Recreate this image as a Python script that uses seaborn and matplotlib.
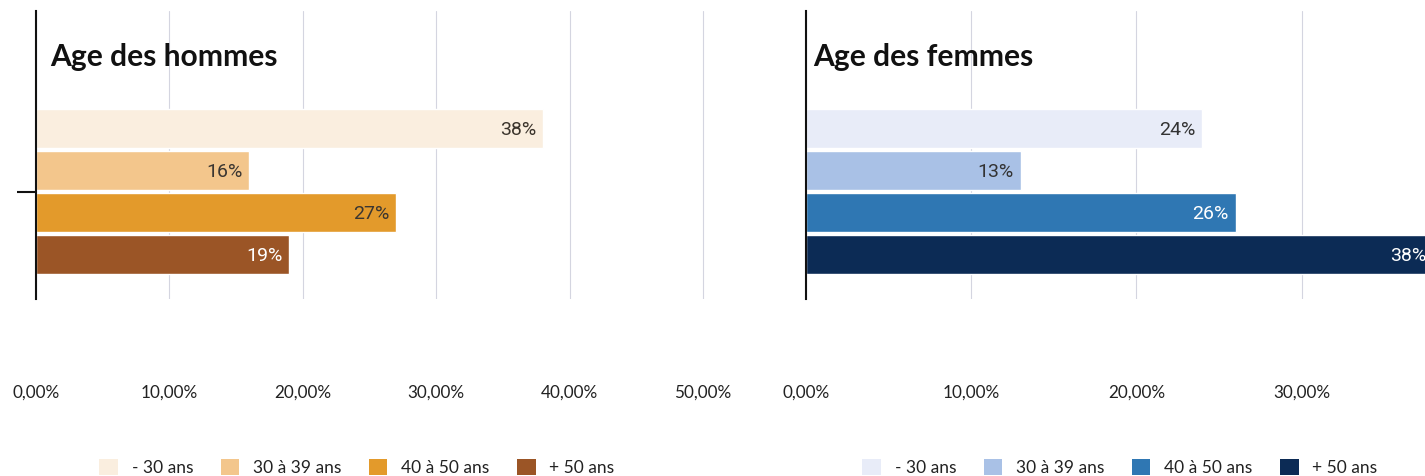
import matplotlib
matplotlib.use("Agg")
import matplotlib.pyplot as plt
from matplotlib.ticker import FuncFormatter, FixedLocator
from matplotlib.patches import Patch
import seaborn as sns
import pandas as pd

# Tranches d'âge et répartitions (en fraction)
ages = ["- 30 ans", "30 à 39 ans", "40 à 50 ans", "+ 50 ans"]
hommes = [0.38, 0.16, 0.27, 0.19]
femmes = [0.24, 0.13, 0.26, 0.38]

couleurs_hommes = ["#faeedf", "#f3c68c", "#e39a2b", "#9b5526"]
couleurs_femmes = ["#e8ecf8", "#a9c1e6", "#2f77b3", "#0c2b55"]
texte_hommes = ["#3b342c", "#3b3631", "#3b3631", "#ffffff"]
texte_femmes = ["#333333", "#333333", "#ffffff", "#ffffff"]

titres = ["Age des hommes", "Age des femmes"]
ticks_hommes = [0.0, 0.1, 0.2, 0.3, 0.4, 0.5]
ticks_femmes = [0.0, 0.1, 0.2, 0.3]

W, H = 1425, 477
sns.set_theme(style="white")
plt.rcParams["font.family"] = ["Lato", "DejaVu Sans"]

fig = plt.figure(figsize=(W / 100, H / 100), dpi=100)


def px_axes(x0, x1, y_top, y_bot):
    return fig.add_axes([x0 / W, 1 - y_bot / H, (x1 - x0) / W, (y_bot - y_top) / H])


def fmt_pct(v, _pos):
    return f"{v * 100:.2f}%".replace(".", ",")


panneaux = [
    dict(ax=px_axes(36, 706, 12, 300), vals=hommes, cols=couleurs_hommes,
         txt=texte_hommes, xmax=0.5023, ticks=ticks_hommes, title=titres[0],
         tx=50, tick_len=13.5, leg_x=357),
    dict(ax=px_axes(806, 1425, 12, 300), vals=femmes, cols=couleurs_femmes,
         txt=texte_femmes, xmax=0.3747, ticks=ticks_femmes, title=titres[1],
         tx=813, tick_len=0, leg_x=1120),
]

for p in panneaux:
    ax = p["ax"]
    df = pd.DataFrame({"groupe": ["total"] * len(ages), "age": ages, "pct": p["vals"]})
    sns.barplot(data=df, x="pct", y="groupe", hue="age", hue_order=ages,
                palette=p["cols"], orient="h", gap=0.07, legend=False,
                saturation=1, ax=ax)

    ax.set_xlim(0, p["xmax"])
    ax.set_ylim(0.51, -0.862)
    ax.xaxis.set_major_locator(FixedLocator(p["ticks"]))
    ax.xaxis.set_major_formatter(FuncFormatter(fmt_pct))
    ax.grid(axis="x", color="#d4d5e0", linewidth=0.8)
    ax.set_axisbelow(True)
    for s in ["top", "right", "bottom"]:
        ax.spines[s].set_visible(False)
    ax.spines["left"].set_color("#111111")
    ax.spines["left"].set_linewidth(1.5)
    ax.set_xlabel("")
    ax.set_ylabel("")
    ax.set_yticklabels([])
    ax.tick_params(axis="y", left=p["tick_len"] > 0, length=p["tick_len"],
                   width=1.5, color="#111111")
    ax.tick_params(axis="x", length=0, pad=61, labelsize=12.3, labelcolor="#222222")

    # étiquettes de valeur à l'intérieur des barres
    for bar, v, c in zip(ax.patches, p["vals"], p["txt"]):
        yc = bar.get_y() + bar.get_height() / 2
        ax.annotate(f"{round(v * 100)}%", xy=(v, yc), xytext=(-5, 0),
                    textcoords="offset points", ha="right", va="center",
                    fontsize=14, color=c,
                    family=["Roboto", "DejaVu Sans"], annotation_clip=False)

    fig.text(p["tx"] / W, 1 - 66 / H, p["title"], fontsize=21.6, fontweight="bold",
             color="#111111", va="baseline", ha="left")

    handles = [Patch(facecolor=c, edgecolor="none", label=a)
               for c, a in zip(p["cols"], ages)]
    fig.legend(handles=handles, loc="center", bbox_to_anchor=(p["leg_x"] / W, 1 - 468 / H),
               ncol=4, frameon=False, fontsize=12.5, handlelength=1.05, handleheight=1.05,
               handletextpad=0.8, columnspacing=1.6, labelcolor="#222222")

fig.savefig("out.png", dpi=100, facecolor="white")
